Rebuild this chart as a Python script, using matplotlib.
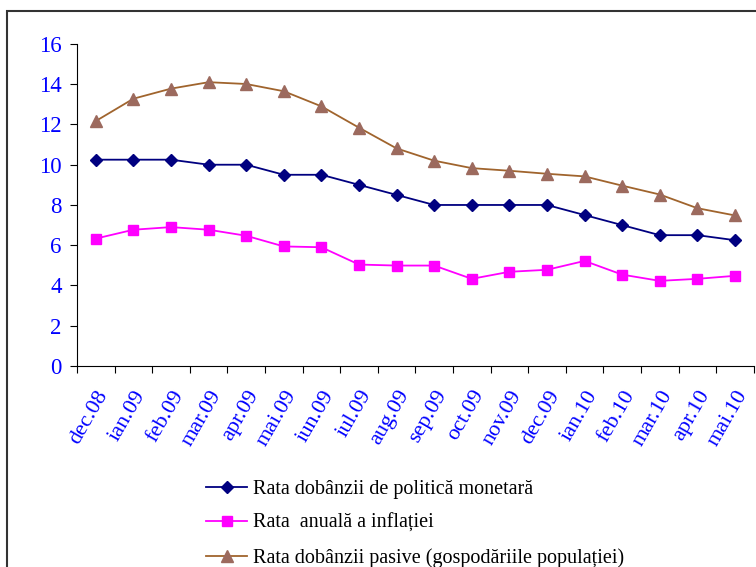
import numpy as np
import matplotlib
matplotlib.use("Agg")
import matplotlib.pyplot as plt
from matplotlib.patches import Rectangle

months = ["dec.08", "ian.09", "feb.09", "mar.09", "apr.09", "mai.09", "iun.09", "iul.09",
          "aug.09", "sep.09", "oct.09", "nov.09", "dec.09", "ian.10", "feb.10", "mar.10",
          "apr.10", "mai.10"]

politica = [10.25, 10.25, 10.25, 10.0, 10.0, 9.5, 9.5, 9.0, 8.5, 8.0, 8.0, 8.0, 8.0,
            7.5, 7.0, 6.5, 6.5, 6.25]
inflatie = [6.33, 6.77, 6.9, 6.77, 6.47, 5.94, 5.9, 5.04, 4.99, 4.99, 4.33, 4.68, 4.78,
            5.22, 4.54, 4.23, 4.33, 4.48]
pasive = [12.17, 13.28, 13.78, 14.1, 14.01, 13.65, 12.9, 11.84, 10.81, 10.2, 9.83, 9.7,
          9.55, 9.42, 8.96, 8.52, 7.84, 7.48]

labels = ["Rata dobânzii de politică monetară",
          "Rata  anuală a inflației",
          "Rata dobânzii pasive (gospodăriile populației)"]

plt.rcParams['font.family'] = ['Liberation Serif', 'DejaVu Serif']

fig = plt.figure(figsize=(7.56, 5.67), dpi=100)
ax = fig.add_axes([0.1019, 0.3545, 0.8951, 0.568])

# chart frame around everything
fig.patches.append(Rectangle((7 / 756, -0.1), 1.1, 0.1 + 1 - 11 / 567,
                             transform=fig.transFigure, fill=False,
                             edgecolor="#333333", linewidth=1.5))

x = np.arange(len(months))
l1, = ax.plot(x, politica, color="#000080", marker="D", markersize=6, linewidth=1.3)
l2, = ax.plot(x, inflatie, color="#FF00FF", marker="s", markersize=7, linewidth=1.3)
l3, = ax.plot(x, pasive, color="#A0642D", marker="^", markersize=8, linewidth=1.3,
              markerfacecolor="#9C6A5E", markeredgecolor="#9C6A5E")

ax.set_xlim(-0.5, len(months) - 0.5)
ax.set_ylim(0, 16)
ax.set_yticks(range(0, 17, 2))
ax.set_xticks(np.arange(-0.5, len(months), 1.0))
ax.set_xticklabels([])
ax.set_xticks(x, minor=True)
ax.set_xticklabels(months, minor=True, rotation=60, ha="right", va="top",
                   rotation_mode="anchor", color="#0000FF", fontsize=16)
ax.tick_params(axis="x", which="minor", length=0, pad=15)
ax.tick_params(axis="x", which="major", length=5, direction="out")
ax.tick_params(axis="y", length=5, direction="out", labelcolor="#0000FF",
               labelsize=16.5, pad=6)

for s in ["top", "right"]:
    ax.spines[s].set_visible(False)

fig.legend(handles=[l1, l2, l3], labels=labels, loc="upper left",
           bbox_to_anchor=(0.249, 0.186), frameon=False, fontsize=14.5,
           handlelength=2.0, handletextpad=0.3, labelspacing=0.75)

fig.savefig("out.png", dpi=100)
